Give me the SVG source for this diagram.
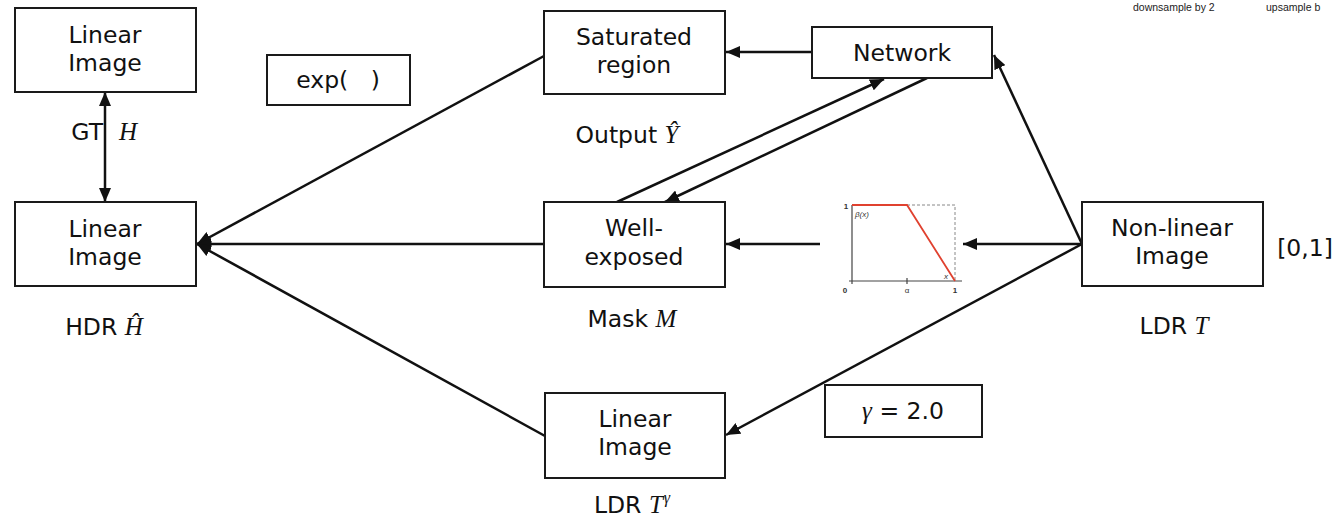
<svg xmlns="http://www.w3.org/2000/svg" width="1338" height="520" viewBox="0 0 1338 520">
  <style>
    .box { fill: #ffffff; stroke: #1a1a1a; stroke-width: 2; }
    .lbl { font-family: "DejaVu Sans", "Liberation Sans", sans-serif; font-size: 23.5px; fill: #111; text-anchor: middle; }
    .lbl-end { font-family: "DejaVu Sans", "Liberation Sans", sans-serif; font-size: 23.5px; fill: #111; text-anchor: end; }
    .math { font-family: "Liberation Serif", serif; font-style: italic; font-size: 25px; }
    .sup { font-family: "Liberation Serif", serif; font-style: italic; font-size: 16px; }
    .edge { stroke: #111; stroke-width: 2.5; fill: none; marker-end: url(#arr); }
    .note { font-family: "Liberation Sans", Arial, sans-serif; font-size: 10.5px; fill: #222; }
    .tiny { font-family: "Liberation Sans", Arial, sans-serif; font-size: 8px; fill: #333; }
  </style>
  <defs>
    <marker id="arr" viewBox="0 0 14 12" refX="14" refY="6" markerWidth="14" markerHeight="12" markerUnits="userSpaceOnUse" orient="auto-start-reverse">
      <path d="M0,0 L14,6 L0,12 Z" fill="#111"/>
    </marker>
  </defs>

  <rect width="1338" height="520" fill="#ffffff"/>

  <!-- header captions running off the right edge -->
  <text class="note" x="1133" y="11">downsample by 2</text>
  <text class="note" x="1266" y="11">upsample b</text>

  <!-- connectors -->
  <g id="connectors">
    <line class="edge" x1="105" y1="92" x2="105" y2="202" marker-start="url(#arr)"/>
    <line class="edge" x1="544" y1="56" x2="197" y2="244"/>
    <line class="edge" x1="544" y1="244" x2="197" y2="244"/>
    <line class="edge" x1="545" y1="436" x2="197" y2="244"/>
    <line class="edge" x1="812" y1="52" x2="726" y2="52"/>
    <line class="edge" x1="617" y1="202" x2="884" y2="79"/>
    <line class="edge" x1="927" y1="78" x2="665" y2="202"/>
    <line class="edge" x1="1082" y1="244" x2="994" y2="55"/>
    <line class="edge" x1="1082" y1="244" x2="963" y2="244"/>
    <line class="edge" x1="820" y1="244" x2="726" y2="244"/>
    <line class="edge" x1="1082" y1="244" x2="726" y2="435"/>
  </g>

  <!-- nodes -->
  <g id="gt-image">
    <rect class="box" x="15" y="8" width="181" height="84"/>
    <text class="lbl" x="105" y="43">Linear<tspan x="105" dy="28">Image</tspan></text>
    <text class="lbl-end" x="103" y="140">GT</text>
    <text class="lbl math" x="128" y="140">H</text>
  </g>

  <g id="hdr-image">
    <rect class="box" x="15" y="202" width="181" height="84"/>
    <text class="lbl" x="105" y="237">Linear<tspan x="105" dy="28">Image</tspan></text>
    <text class="lbl" x="104" y="335">HDR <tspan class="math">Ĥ</tspan></text>
  </g>

  <g id="exp-op">
    <rect class="box" x="267" y="55" width="143" height="50"/>
    <text class="lbl" x="338" y="88" xml:space="preserve">exp(   )</text>
  </g>

  <g id="saturated">
    <rect class="box" x="544" y="11" width="181" height="83"/>
    <text class="lbl" x="634" y="45">Saturated<tspan x="634" dy="28">region</tspan></text>
    <text class="lbl" x="627" y="143">Output <tspan class="math">Ŷ</tspan></text>
  </g>

  <g id="network">
    <rect class="box" x="812" y="27" width="180" height="51"/>
    <text class="lbl" x="902" y="61">Network</text>
  </g>

  <g id="mask">
    <rect class="box" x="544" y="202" width="181" height="85"/>
    <text class="lbl" x="634" y="236">Well-<tspan x="634" dy="29">exposed</tspan></text>
    <text class="lbl" x="632" y="327">Mask <tspan class="math">M</tspan></text>
  </g>

  <g id="weight-curve">
    <line x1="852" y1="205" x2="852" y2="284" stroke="#444" stroke-width="1.2"/>
    <line x1="849" y1="281" x2="962" y2="281" stroke="#444" stroke-width="1.2"/>
    <line x1="907" y1="278" x2="907" y2="284" stroke="#444" stroke-width="1.2"/>
    <polyline points="907,205 955,205 955,281" fill="none" stroke="#888" stroke-width="1" stroke-dasharray="3,2"/>
    <polyline points="852,205 907,205 955,281" fill="none" stroke="#e0412f" stroke-width="1.8"/>
    <text class="tiny" x="846" y="209" text-anchor="middle" font-weight="bold">1</text>
    <text class="tiny" x="855" y="217" font-style="italic">β(x)</text>
    <text class="tiny" x="845" y="293" text-anchor="middle" font-weight="bold">0</text>
    <text class="tiny" x="907" y="293" text-anchor="middle">α</text>
    <text class="tiny" x="955" y="293" text-anchor="middle" font-weight="bold">1</text>
    <text class="tiny" x="944" y="279" font-style="italic">x</text>
  </g>

  <g id="ldr-image">
    <rect class="box" x="1082" y="202" width="181" height="84"/>
    <text class="lbl" x="1172" y="236">Non-linear<tspan x="1172" dy="28">Image</tspan></text>
    <text class="lbl" x="1305" y="256">[0,1]</text>
    <text class="lbl" x="1174" y="334">LDR <tspan class="math">T</tspan></text>
  </g>

  <g id="gamma-op">
    <rect class="box" x="825" y="385" width="157" height="52"/>
    <text class="lbl" x="903" y="419"><tspan class="math">γ</tspan> = 2.0</text>
  </g>

  <g id="linearized">
    <rect class="box" x="545" y="393" width="180" height="85"/>
    <text class="lbl" x="635" y="427">Linear<tspan x="635" dy="28">Image</tspan></text>
    <text class="lbl" x="632" y="513">LDR <tspan class="math">T</tspan><tspan class="sup" dx="1" dy="-10">γ</tspan></text>
  </g>
</svg>
